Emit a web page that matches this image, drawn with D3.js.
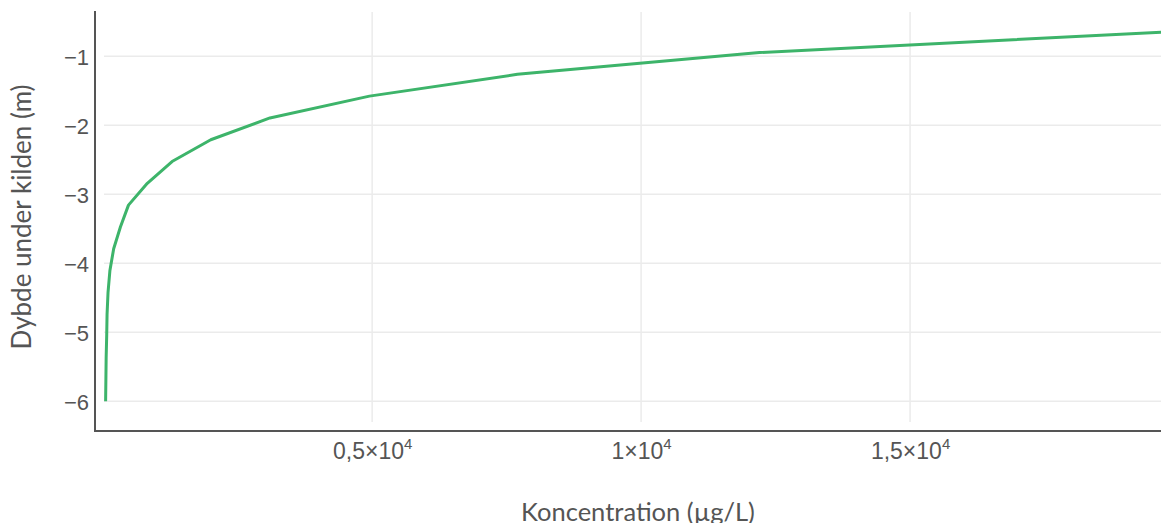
<!DOCTYPE html>
<html>
<head>
<meta charset="utf-8">
<script src="https://cdn.jsdelivr.net/npm/d3@7"></script>
<style>
  html, body { margin: 0; padding: 0; background: #fff; }
  svg { display: block; font-family: Lato, "Open Sans", sans-serif; }
</style>
</head>
<body>
<svg id="chart" width="1161" height="523"></svg>
<script>
// Concentration profile below the source
const depths = [-6, -5.684, -5.368, -5.053, -4.737, -4.421, -4.105, -3.789, -3.474,
                -3.158, -2.842, -2.526, -2.211, -1.895, -1.579, -1.263, -0.947, -0.632];
const concentrations = [45, 50, 55, 65, 72, 90, 125, 195, 320,
                        470, 820, 1280, 2000, 3100, 4950, 7700, 12200, 20200];
const xTickValues = [5000, 10000, 15000];
const xTickMantissas = ["0,5", "1", "1,5"];
const yTickValues = [-6, -5, -4, -3, -2, -1];

const xTitle = "Koncentration (µg/L)";
const yTitle = "Dybde under kilden (m)";

const svg = d3.select("#chart");
const plot = { left: 104, right: 1161, top: 12, bottom: 422 };

const x = d3.scaleLinear().domain([15, 19665]).range([plot.left, plot.right]);
const y = d3.scaleLinear().domain([-6.3, -0.36]).range([plot.bottom, plot.top]);

// grid
const grid = svg.append("g");
grid.selectAll("line.vg").data(xTickValues).join("line")
  .attr("x1", d => x(d)).attr("x2", d => x(d))
  .attr("y1", plot.top).attr("y2", plot.bottom)
  .attr("stroke", "#ebebeb").attr("stroke-width", 1.5);
grid.selectAll("line.hg").data(yTickValues).join("line")
  .attr("x1", plot.left).attr("x2", plot.right)
  .attr("y1", d => y(d)).attr("y2", d => y(d))
  .attr("stroke", "#ebebeb").attr("stroke-width", 1.5);

// curve
svg.append("defs").append("clipPath").attr("id", "clip")
  .append("rect").attr("x", plot.left - 5).attr("y", plot.top)
  .attr("width", plot.right - plot.left + 5).attr("height", plot.bottom - plot.top);

const line = d3.line().x((d, i) => x(concentrations[i])).y(d => y(d));
svg.append("path")
  .datum(depths)
  .attr("clip-path", "url(#clip)")
  .attr("d", line)
  .attr("fill", "none")
  .attr("stroke", "#3db46a")
  .attr("stroke-width", 3)
  .attr("stroke-linejoin", "round");

// axes
const xAxis = d3.axisBottom(x).tickValues(xTickValues).tickSize(0).tickFormat("");
const gx = svg.append("g").attr("transform", "translate(0,431)").call(xAxis);
gx.select(".domain").remove();
gx.append("line").attr("x1", 95).attr("x2", 1161).attr("y1", 0).attr("y2", 0)
  .attr("stroke", "#555").attr("stroke-width", 2);
gx.selectAll(".tick").each(function(d, i) {
  const t = d3.select(this).append("text")
    .attr("y", 28).attr("text-anchor", "middle")
    .attr("fill", "#555").attr("font-size", 23);
  t.append("tspan").text(xTickMantissas[i] + "×10");
  t.append("tspan").attr("font-size", 15).attr("dy", -10).text("4");
});

const yAxis = d3.axisLeft(y).tickValues(yTickValues).tickSize(0)
  .tickFormat(d => "\u2212" + Math.abs(d));
const gy = svg.append("g").attr("transform", "translate(95,0)").call(yAxis);
gy.select(".domain").remove();
gy.append("line").attr("x1", 0).attr("x2", 0).attr("y1", 11).attr("y2", 432)
  .attr("stroke", "#555").attr("stroke-width", 2);
gy.selectAll(".tick text").attr("x", -6).attr("dy", "0.36em")
  .attr("fill", "#555").attr("font-size", 22).attr("font-family", null);

// titles
svg.append("text").attr("x", 638).attr("y", 521).attr("text-anchor", "middle")
  .attr("fill", "#555").attr("font-size", 25.5).text(xTitle);
svg.append("text")
  .attr("transform", `translate(31,${217}) rotate(-90)`)
  .attr("text-anchor", "middle")
  .attr("fill", "#555").attr("font-size", 26).text(yTitle);
</script>
</body>
</html>
